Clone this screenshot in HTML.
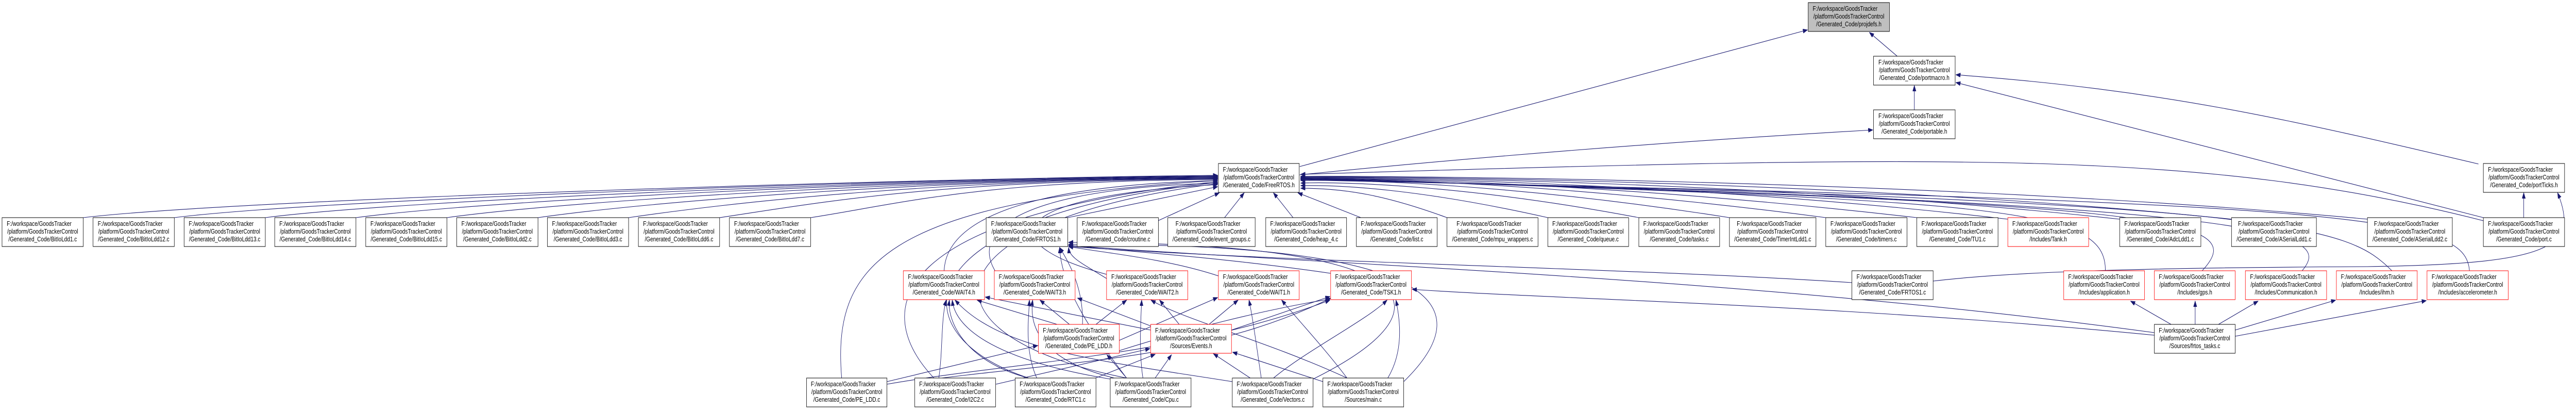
<!DOCTYPE html>
<html><head><meta charset="utf-8">
<style>
html,body{margin:0;padding:0;background:#fff;width:100%;height:100%;overflow:hidden;}
svg{display:block;position:absolute;left:0;top:0;}
text{font-family:"Liberation Sans",Arial,sans-serif;font-size:12.7px;fill:#000;}
.e{fill:none;stroke:#191970;stroke-width:1.1;marker-end:url(#a);}
.b{fill:#fff;stroke:#000;stroke-width:1;}
.r{fill:#fff;stroke:#ff0000;stroke-width:1;}
.g{fill:#bfbfbf;stroke:#000;stroke-width:1;}
</style></head>
<body>
<svg width="100%" height="100%" viewBox="0 0 6311 795" preserveAspectRatio="none" xmlns="http://www.w3.org/2000/svg">
<defs>
<marker id="a" markerWidth="12" markerHeight="9" refX="11" refY="4" orient="auto" markerUnits="userSpaceOnUse">
<path d="M0,0 L11,4 L0,8 z" fill="#191970" stroke="#191970"/>
</marker>
</defs>

<path class="e" d="M4690,213 L4690,166"/>
<path class="e" d="M4648,109 L4580,63"/>
<path class="e" d="M6072,318 C5600,230 5300,175 4792,145"/>
<path class="e" d="M6084,422 L4792,160"/>
<path class="e" d="M6183,422 L6183,374"/>
<path class="e" d="M3184,323 L4428,58"/>
<path class="e" d="M3184,339 C3800,290 4300,265 4588,252"/>

<path class="e" d="M204,422 C600,385 2300,345 2983,340"/>
<path class="e" d="M427,422 C800,385 2300,345 2983,341"/>
<path class="e" d="M650,422 C1000,386 2300,346 2983,342"/>
<path class="e" d="M872,422 C1200,387 2300,346 2983,343"/>
<path class="e" d="M1095,422 C1400,388 2300,347 2983,344"/>
<path class="e" d="M1318,422 C1600,390 2300,347 2983,345"/>
<path class="e" d="M1540,422 C1800,392 2300,348 2983,346"/>
<path class="e" d="M1763,422 C2000,394 2300,349 2983,347"/>
<path class="e" d="M1986,422 C2200,396 2400,350 2983,348"/>
<path class="e" d="M2062,733 C2040,520 2150,390 2983,350"/>
<path class="e" d="M2288,733 C2130,600 2180,420 2983,352"/>
<path class="e" d="M2520,733 C2200,650 2200,420 2983,354"/>
<path class="e" d="M2760,733 C2230,650 2260,430 2983,356"/>
<path class="e" d="M2313,525 C2318,430 2500,360 2983,350"/>
<path class="e" d="M2440,528 C2370,440 2520,365 2983,355"/>
<path class="e" d="M2711,532 C2420,470 2460,380 2983,358"/>
<path class="e" d="M2616,422 L2983,362"/>
<path class="e" d="M2837,428 L2987,374"/>
<path class="e" d="M3000,422 L3048,374"/>
<path class="e" d="M3168,422 L3120,374"/>
<path class="e" d="M3334,422 L3180,374"/>

<path class="e" d="M3545,422 C3400,380 3300,365 3187,365"/>
<path class="e" d="M3792,422 C3500,370 3300,358 3187,360"/>
<path class="e" d="M4015,422 C3600,360 3300,352 3187,355"/>
<path class="e" d="M4237,422 C3700,355 3300,348 3187,350"/>
<path class="e" d="M4473,422 C3800,352 3300,345 3187,347"/>
<path class="e" d="M4696,422 C3900,350 3300,345 3187,346"/>
<path class="e" d="M4919,425 C4100,350 3300,344 3187,345"/>
<path class="e" d="M5193,425 C4300,348 3300,343 3187,344"/>
<path class="e" d="M5467,425 C4500,346 3300,342 3187,343"/>
<path class="e" d="M5800,425 C4700,344 3300,341 3187,342"/>
<path class="e" d="M6084,428 C5400,290 4800,300 3187,338"/>
<path class="e" d="M5158,525 C5160,400 4900,390 3187,345"/>
<path class="e" d="M5395,525 C5520,420 5300,395 3187,346"/>
<path class="e" d="M5640,525 C5720,450 5600,395 3187,347"/>
<path class="e" d="M5860,525 C5750,440 5650,390 3187,348"/>
<path class="e" d="M6050,525 C6040,420 5800,392 3187,349"/>

<path class="e" d="M4537,548 C4000,520 3200,510 2618,478"/>
<path class="e" d="M4736,545 C4950,525 5300,519 5800,517 C6250,512 6320,480 6266,374"/>
<path class="e" d="M5319,629 L5220,584"/>
<path class="e" d="M5378,629 L5378,584"/>
<path class="e" d="M5435,629 L5532,584"/>
<path class="e" d="M5476,640 L5722,582"/>
<path class="e" d="M5476,652 L5944,583"/>
<path class="e" d="M5278,650 C4500,590 3800,580 3460,561"/>
<path class="e" d="M5278,645 C4300,540 3300,515 2618,476"/>

<path class="e" d="M2652,629 C2655,560 2620,510 2596,480"/>
<path class="e" d="M3217,735 C3560,600 3520,470 2618,470"/>
<path class="e" d="M3439,740 C3620,600 3560,470 2618,474"/>
<path class="e" d="M2985,535 C2850,500 2700,490 2618,478"/>
<path class="e" d="M3260,530 C3000,500 2800,490 2618,476"/>
<path class="e" d="M2711,540 C2650,510 2620,500 2618,480"/>
<path class="e" d="M2590,629 L2394,582"/>
<path class="e" d="M2620,629 L2548,582"/>
<path class="e" d="M2685,629 L2760,582"/>
<path class="e" d="M2742,660 L2983,577"/>
<path class="e" d="M2742,680 C2900,640 3100,600 3258,580"/>
<path class="e" d="M3017,640 L3258,575"/>
<path class="e" d="M2962,629 L3033,582"/>
<path class="e" d="M2889,629 L2841,582"/>
<path class="e" d="M2819,632 L2640,578"/>
<path class="e" d="M2819,640 L2414,576"/>
<path class="e" d="M2173,740 L2542,670"/>
<path class="e" d="M2440,745 L2817,676"/>
<path class="e" d="M2300,733 C2310,680 2305,620 2318,582"/>
<path class="e" d="M2684,733 L2830,687"/>
<path class="e" d="M2540,733 C2510,680 2520,620 2522,582"/>
<path class="e" d="M2520,733 C2360,700 2320,620 2326,582"/>
<path class="e" d="M2720,735 C2450,700 2340,640 2333,582"/>
<path class="e" d="M2730,733 C2560,700 2520,640 2530,582"/>
<path class="e" d="M2800,733 C2790,680 2795,620 2797,582"/>
<path class="e" d="M2760,733 L2712,688"/>
<path class="e" d="M2830,733 L2870,688"/>
<path class="e" d="M2760,733 C2680,650 2600,560 2596,480"/>
<path class="e" d="M3090,733 C3080,680 3070,620 3060,582"/>
<path class="e" d="M3120,733 C3200,680 3350,620 3398,582"/>
<path class="e" d="M3063,733 L2973,686"/>
<path class="e" d="M3019,740 C2700,700 2450,680 2340,582"/>
<path class="e" d="M3241,740 L3020,683"/>
<path class="e" d="M3400,733 C3440,680 3430,620 3420,582"/>
<path class="e" d="M3300,733 C3250,680 3180,620 3140,582"/>
<path class="e" d="M3300,733 C3100,660 2900,620 2820,582"/>
<path class="e" d="M2173,745 C2500,700 2900,690 3258,582"/>
<path class="e" d="M2241,740 C2600,700 2950,700 3260,578"/>

<g>
<rect class="g" x="4430" y="5" width="199" height="56"/>
<text x="4441" y="21">F:/workspace/GoodsTracker</text><text x="4529.5" y="36" text-anchor="middle">/platform/GoodsTrackerControl</text><text x="4529.5" y="51" text-anchor="middle">/Generated_Code/projdefs.h</text>
<rect class="b" x="4590" y="109" width="200" height="56"/>
<text x="4602" y="125">F:/workspace/GoodsTracker</text><text x="4690" y="140" text-anchor="middle">/platform/GoodsTrackerControl</text><text x="4690" y="155" text-anchor="middle">/Generated_Code/portmacro.h</text>
<rect class="b" x="4590" y="213" width="200" height="56"/>
<text x="4602" y="229">F:/workspace/GoodsTracker</text><text x="4690" y="244" text-anchor="middle">/platform/GoodsTrackerControl</text><text x="4690" y="259" text-anchor="middle">/Generated_Code/portable.h</text>
<rect class="b" x="2985" y="317" width="198" height="56"/>
<text x="2996" y="333">F:/workspace/GoodsTracker</text><text x="3084" y="348" text-anchor="middle">/platform/GoodsTrackerControl</text><text x="3084" y="363" text-anchor="middle">/Generated_Code/FreeRTOS.h</text>
<rect class="b" x="6084" y="317" width="199" height="56"/>
<text x="6095.5" y="333">F:/workspace/GoodsTracker</text><text x="6183.5" y="348" text-anchor="middle">/platform/GoodsTrackerControl</text><text x="6183.5" y="363" text-anchor="middle">/Generated_Code/portTicks.h</text>

<rect class="b" x="5" y="422" width="199" height="56"/>
<text x="16.5" y="438">F:/workspace/GoodsTracker</text><text x="104.5" y="453" text-anchor="middle">/platform/GoodsTrackerControl</text><text x="104.5" y="468" text-anchor="middle">/Generated_Code/BitIoLdd1.c</text>
<rect class="b" x="228" y="422" width="199" height="56"/>
<text x="239.5" y="438">F:/workspace/GoodsTracker</text><text x="327.5" y="453" text-anchor="middle">/platform/GoodsTrackerControl</text><text x="327.5" y="468" text-anchor="middle">/Generated_Code/BitIoLdd12.c</text>
<rect class="b" x="451" y="422" width="199" height="56"/>
<text x="462.5" y="438">F:/workspace/GoodsTracker</text><text x="550.5" y="453" text-anchor="middle">/platform/GoodsTrackerControl</text><text x="550.5" y="468" text-anchor="middle">/Generated_Code/BitIoLdd13.c</text>
<rect class="b" x="673" y="422" width="199" height="56"/>
<text x="684.5" y="438">F:/workspace/GoodsTracker</text><text x="772.5" y="453" text-anchor="middle">/platform/GoodsTrackerControl</text><text x="772.5" y="468" text-anchor="middle">/Generated_Code/BitIoLdd14.c</text>
<rect class="b" x="896" y="422" width="199" height="56"/>
<text x="907.5" y="438">F:/workspace/GoodsTracker</text><text x="995.5" y="453" text-anchor="middle">/platform/GoodsTrackerControl</text><text x="995.5" y="468" text-anchor="middle">/Generated_Code/BitIoLdd15.c</text>
<rect class="b" x="1119" y="422" width="199" height="56"/>
<text x="1130.5" y="438">F:/workspace/GoodsTracker</text><text x="1218.5" y="453" text-anchor="middle">/platform/GoodsTrackerControl</text><text x="1218.5" y="468" text-anchor="middle">/Generated_Code/BitIoLdd2.c</text>
<rect class="b" x="1341" y="422" width="199" height="56"/>
<text x="1352.5" y="438">F:/workspace/GoodsTracker</text><text x="1440.5" y="453" text-anchor="middle">/platform/GoodsTrackerControl</text><text x="1440.5" y="468" text-anchor="middle">/Generated_Code/BitIoLdd3.c</text>
<rect class="b" x="1564" y="422" width="199" height="56"/>
<text x="1575.5" y="438">F:/workspace/GoodsTracker</text><text x="1663.5" y="453" text-anchor="middle">/platform/GoodsTrackerControl</text><text x="1663.5" y="468" text-anchor="middle">/Generated_Code/BitIoLdd6.c</text>
<rect class="b" x="1787" y="422" width="199" height="56"/>
<text x="1798.5" y="438">F:/workspace/GoodsTracker</text><text x="1886.5" y="453" text-anchor="middle">/platform/GoodsTrackerControl</text><text x="1886.5" y="468" text-anchor="middle">/Generated_Code/BitIoLdd7.c</text>
<rect class="b" x="2416" y="422" width="200" height="56"/>
<text x="2428" y="438">F:/workspace/GoodsTracker</text><text x="2516" y="453" text-anchor="middle">/platform/GoodsTrackerControl</text><text x="2516" y="468" text-anchor="middle">/Generated_Code/FRTOS1.h</text>
<rect class="b" x="2639" y="422" width="199" height="56"/>
<text x="2650.5" y="438">F:/workspace/GoodsTracker</text><text x="2738.5" y="453" text-anchor="middle">/platform/GoodsTrackerControl</text><text x="2738.5" y="468" text-anchor="middle">/Generated_Code/croutine.c</text>
<rect class="b" x="2861" y="422" width="214" height="56"/>
<text x="2880" y="438">F:/workspace/GoodsTracker</text><text x="2968" y="453" text-anchor="middle">/platform/GoodsTrackerControl</text><text x="2968" y="468" text-anchor="middle">/Generated_Code/event_groups.c</text>
<rect class="b" x="3101" y="422" width="198" height="56"/>
<text x="3112" y="438">F:/workspace/GoodsTracker</text><text x="3200" y="453" text-anchor="middle">/platform/GoodsTrackerControl</text><text x="3200" y="468" text-anchor="middle">/Generated_Code/heap_4.c</text>
<rect class="b" x="3323" y="422" width="198" height="56"/>
<text x="3334" y="438">F:/workspace/GoodsTracker</text><text x="3422" y="453" text-anchor="middle">/platform/GoodsTrackerControl</text><text x="3422" y="468" text-anchor="middle">/Generated_Code/list.c</text>
<rect class="b" x="3545" y="422" width="223" height="56"/>
<text x="3568.5" y="438">F:/workspace/GoodsTracker</text><text x="3656.5" y="453" text-anchor="middle">/platform/GoodsTrackerControl</text><text x="3656.5" y="468" text-anchor="middle">/Generated_Code/mpu_wrappers.c</text>
<rect class="b" x="3792" y="422" width="198" height="56"/>
<text x="3803" y="438">F:/workspace/GoodsTracker</text><text x="3891" y="453" text-anchor="middle">/platform/GoodsTrackerControl</text><text x="3891" y="468" text-anchor="middle">/Generated_Code/queue.c</text>
<rect class="b" x="4015" y="422" width="198" height="56"/>
<text x="4026" y="438">F:/workspace/GoodsTracker</text><text x="4114" y="453" text-anchor="middle">/platform/GoodsTrackerControl</text><text x="4114" y="468" text-anchor="middle">/Generated_Code/tasks.c</text>
<rect class="b" x="4237" y="422" width="212" height="56"/>
<text x="4255" y="438">F:/workspace/GoodsTracker</text><text x="4343" y="453" text-anchor="middle">/platform/GoodsTrackerControl</text><text x="4343" y="468" text-anchor="middle">/Generated_Code/TimerIntLdd1.c</text>
<rect class="b" x="4473" y="422" width="199" height="56"/>
<text x="4484.5" y="438">F:/workspace/GoodsTracker</text><text x="4572.5" y="453" text-anchor="middle">/platform/GoodsTrackerControl</text><text x="4572.5" y="468" text-anchor="middle">/Generated_Code/timers.c</text>
<rect class="b" x="4696" y="422" width="199" height="56"/>
<text x="4707.5" y="438">F:/workspace/GoodsTracker</text><text x="4795.5" y="453" text-anchor="middle">/platform/GoodsTrackerControl</text><text x="4795.5" y="468" text-anchor="middle">/Generated_Code/TU1.c</text>
<rect class="r" x="4919" y="422" width="198" height="56"/>
<text x="4930" y="438">F:/workspace/GoodsTracker</text><text x="5018" y="453" text-anchor="middle">/platform/GoodsTrackerControl</text><text x="5018" y="468" text-anchor="middle">/Includes/Tank.h</text>
<rect class="b" x="5193" y="422" width="199" height="56"/>
<text x="5204.5" y="438">F:/workspace/GoodsTracker</text><text x="5292.5" y="453" text-anchor="middle">/platform/GoodsTrackerControl</text><text x="5292.5" y="468" text-anchor="middle">/Generated_Code/AdcLdd1.c</text>
<rect class="b" x="5467" y="422" width="208" height="56"/>
<text x="5483" y="438">F:/workspace/GoodsTracker</text><text x="5571" y="453" text-anchor="middle">/platform/GoodsTrackerControl</text><text x="5571" y="468" text-anchor="middle">/Generated_Code/ASerialLdd1.c</text>
<rect class="b" x="5800" y="422" width="208" height="56"/>
<text x="5816" y="438">F:/workspace/GoodsTracker</text><text x="5904" y="453" text-anchor="middle">/platform/GoodsTrackerControl</text><text x="5904" y="468" text-anchor="middle">/Generated_Code/ASerialLdd2.c</text>
<rect class="b" x="6084" y="422" width="199" height="56"/>
<text x="6095.5" y="438">F:/workspace/GoodsTracker</text><text x="6183.5" y="453" text-anchor="middle">/platform/GoodsTrackerControl</text><text x="6183.5" y="468" text-anchor="middle">/Generated_Code/port.c</text>

<rect class="r" x="2213" y="525" width="199" height="56"/>
<text x="2224.5" y="541">F:/workspace/GoodsTracker</text><text x="2312.5" y="556" text-anchor="middle">/platform/GoodsTrackerControl</text><text x="2312.5" y="571" text-anchor="middle">/Generated_Code/WAIT4.h</text>
<rect class="r" x="2436" y="525" width="198" height="56"/>
<text x="2447" y="541">F:/workspace/GoodsTracker</text><text x="2535" y="556" text-anchor="middle">/platform/GoodsTrackerControl</text><text x="2535" y="571" text-anchor="middle">/Generated_Code/WAIT3.h</text>
<rect class="r" x="2711" y="525" width="199" height="56"/>
<text x="2722.5" y="541">F:/workspace/GoodsTracker</text><text x="2810.5" y="556" text-anchor="middle">/platform/GoodsTrackerControl</text><text x="2810.5" y="571" text-anchor="middle">/Generated_Code/WAIT2.h</text>
<rect class="r" x="2985" y="525" width="198" height="56"/>
<text x="2996" y="541">F:/workspace/GoodsTracker</text><text x="3084" y="556" text-anchor="middle">/platform/GoodsTrackerControl</text><text x="3084" y="571" text-anchor="middle">/Generated_Code/WAIT1.h</text>
<rect class="r" x="3260" y="525" width="198" height="56"/>
<text x="3271" y="541">F:/workspace/GoodsTracker</text><text x="3359" y="556" text-anchor="middle">/platform/GoodsTrackerControl</text><text x="3359" y="571" text-anchor="middle">/Generated_Code/TSK1.h</text>
<rect class="b" x="4537" y="525" width="199" height="56"/>
<text x="4548.5" y="541">F:/workspace/GoodsTracker</text><text x="4636.5" y="556" text-anchor="middle">/platform/GoodsTrackerControl</text><text x="4636.5" y="571" text-anchor="middle">/Generated_Code/FRTOS1.c</text>
<rect class="r" x="5056" y="525" width="198" height="56"/>
<text x="5067" y="541">F:/workspace/GoodsTracker</text><text x="5155" y="556" text-anchor="middle">/platform/GoodsTrackerControl</text><text x="5155" y="571" text-anchor="middle">/Includes/application.h</text>
<rect class="r" x="5278" y="525" width="198" height="56"/>
<text x="5289" y="541">F:/workspace/GoodsTracker</text><text x="5377" y="556" text-anchor="middle">/platform/GoodsTrackerControl</text><text x="5377" y="571" text-anchor="middle">/Includes/gps.h</text>
<rect class="r" x="5501" y="525" width="199" height="56"/>
<text x="5512.5" y="541">F:/workspace/GoodsTracker</text><text x="5600.5" y="556" text-anchor="middle">/platform/GoodsTrackerControl</text><text x="5600.5" y="571" text-anchor="middle">/Includes/Communication.h</text>
<rect class="r" x="5724" y="525" width="198" height="56"/>
<text x="5735" y="541">F:/workspace/GoodsTracker</text><text x="5823" y="556" text-anchor="middle">/platform/GoodsTrackerControl</text><text x="5823" y="571" text-anchor="middle">/Includes/ihm.h</text>
<rect class="r" x="5946" y="525" width="199" height="56"/>
<text x="5957.5" y="541">F:/workspace/GoodsTracker</text><text x="6045.5" y="556" text-anchor="middle">/platform/GoodsTrackerControl</text><text x="6045.5" y="571" text-anchor="middle">/Includes/accelerometer.h</text>

<rect class="r" x="2544" y="629" width="198" height="56"/>
<text x="2555" y="645">F:/workspace/GoodsTracker</text><text x="2643" y="660" text-anchor="middle">/platform/GoodsTrackerControl</text><text x="2643" y="675" text-anchor="middle">/Generated_Code/PE_LDD.h</text>
<rect class="r" x="2819" y="629" width="198" height="56"/>
<text x="2830" y="645">F:/workspace/GoodsTracker</text><text x="2918" y="660" text-anchor="middle">/platform/GoodsTrackerControl</text><text x="2918" y="675" text-anchor="middle">/Sources/Events.h</text>
<rect class="b" x="5278" y="629" width="198" height="56"/>
<text x="5289" y="645">F:/workspace/GoodsTracker</text><text x="5377" y="660" text-anchor="middle">/platform/GoodsTrackerControl</text><text x="5377" y="675" text-anchor="middle">/Sources/frtos_tasks.c</text>

<rect class="b" x="1976" y="733" width="197" height="56"/>
<text x="1986.5" y="749">F:/workspace/GoodsTracker</text><text x="2074.5" y="764" text-anchor="middle">/platform/GoodsTrackerControl</text><text x="2074.5" y="779" text-anchor="middle">/Generated_Code/PE_LDD.c</text>
<rect class="b" x="2241" y="733" width="198" height="56"/>
<text x="2252" y="749">F:/workspace/GoodsTracker</text><text x="2340" y="764" text-anchor="middle">/platform/GoodsTrackerControl</text><text x="2340" y="779" text-anchor="middle">/Generated_Code/I2C2.c</text>
<rect class="b" x="2487" y="733" width="198" height="56"/>
<text x="2498" y="749">F:/workspace/GoodsTracker</text><text x="2586" y="764" text-anchor="middle">/platform/GoodsTrackerControl</text><text x="2586" y="779" text-anchor="middle">/Generated_Code/RTC1.c</text>
<rect class="b" x="2720" y="733" width="198" height="56"/>
<text x="2731" y="749">F:/workspace/GoodsTracker</text><text x="2819" y="764" text-anchor="middle">/platform/GoodsTrackerControl</text><text x="2819" y="779" text-anchor="middle">/Generated_Code/Cpu.c</text>
<rect class="b" x="3019" y="733" width="198" height="56"/>
<text x="3030" y="749">F:/workspace/GoodsTracker</text><text x="3118" y="764" text-anchor="middle">/platform/GoodsTrackerControl</text><text x="3118" y="779" text-anchor="middle">/Generated_Code/Vectors.c</text>
<rect class="b" x="3241" y="733" width="198" height="56"/>
<text x="3252" y="749">F:/workspace/GoodsTracker</text><text x="3340" y="764" text-anchor="middle">/platform/GoodsTrackerControl</text><text x="3340" y="779" text-anchor="middle">/Sources/main.c</text>
</g>
</svg>
</body></html>
